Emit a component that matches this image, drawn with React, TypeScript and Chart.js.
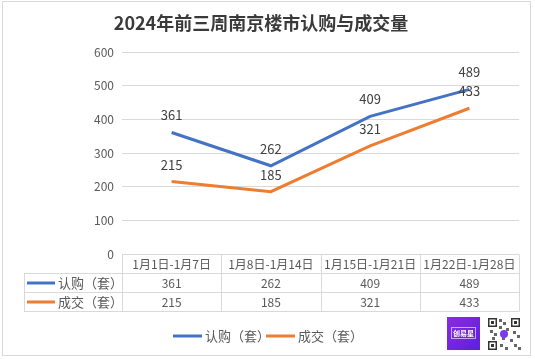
import React, { useEffect, useRef } from "react";
import { Chart, registerables } from "chart.js";

Chart.register(...registerables);

const title = "2024年前三周南京楼市认购与成交量";
const categories = ["1月1日-1月7日", "1月8日-1月14日", "1月15日-1月21日", "1月22日-1月28日"];
const seriesNames = ["认购（套）", "成交（套）"];
const subscription = [361, 262, 409, 489];
const deals = [215, 185, 321, 433];
const yMin = 0;
const yMax = 600;
const yStep = 100;

const COLORS = ["#4472C4", "#ED7D31"];
const FONT = '"Noto Sans CJK SC", "Noto Sans", sans-serif';
const GRID = "#d9d9d9";
const TEXT = "#595959";

const overlay = {
  id: "overlay",
  beforeDraw(chart: any) {
    const ctx = chart.ctx;
    ctx.save();
    ctx.fillStyle = "#ffffff";
    ctx.fillRect(0, 0, chart.width, chart.height);
    ctx.restore();
  },
  afterDraw(chart: any) {
    const ctx = chart.ctx;
    const area = chart.chartArea;
    const xs = chart.scales.x;
    ctx.save();
    // outer border
    ctx.strokeStyle = "#d9d9d9";
    ctx.lineWidth = 1;
    ctx.strokeRect(2.5, 1.5, 528, 354);

    // title
    ctx.fillStyle = "#3a3a3a";
    ctx.font = `bold 18px ${FONT}`;
    ctx.textAlign = "center";
    ctx.textBaseline = "middle";
    ctx.fillText(title, 261, 23);

    // data labels
    ctx.font = `13px ${FONT}`;
    ctx.fillStyle = "#404040";
    ctx.textBaseline = "middle";
    chart.data.datasets.forEach((ds: any, di: number) => {
      const meta = chart.getDatasetMeta(di);
      meta.data.forEach((pt: any, i: number) => {
        ctx.fillText(String(ds.data[i]), pt.x, pt.y - 17);
      });
    });

    // table
    const left = 24;
    const rowH = 19;
    const top = area.bottom + 0.5;
    const r1 = top + rowH;
    const r2 = r1 + rowH;
    const r3 = r2 + rowH;
    const right = area.right;
    const colW = (area.right - area.left) / categories.length;
    ctx.strokeStyle = GRID;
    ctx.lineWidth = 1;
    ctx.beginPath();
    ctx.moveTo(area.left, top); ctx.lineTo(right, top);
    ctx.moveTo(left, r1); ctx.lineTo(right, r1);
    ctx.moveTo(left, r2); ctx.lineTo(right, r2);
    ctx.moveTo(left, r3); ctx.lineTo(right, r3);
    ctx.moveTo(left + 0.5, r1); ctx.lineTo(left + 0.5, r3);
    for (let i = 0; i <= categories.length; i++) {
      const x = Math.round(area.left + i * colW) + 0.5;
      ctx.moveTo(x, top); ctx.lineTo(x, r3);
    }
    ctx.stroke();

    ctx.fillStyle = TEXT;
    ctx.font = `12px ${FONT}`;
    ctx.textAlign = "center";
    categories.forEach((c, i) => {
      const cx = xs.getPixelForValue(i);
      ctx.fillText(c, cx, (top + r1) / 2);
    });
    const rows = [r1, r2];
    chart.data.datasets.forEach((ds: any, di: number) => {
      const cy = (rows[di] + rows[di] + rowH) / 2;
      ctx.textAlign = "center";
      ctx.fillStyle = TEXT;
      ds.data.forEach((v: number, i: number) => {
        ctx.fillText(String(v), xs.getPixelForValue(i), cy);
      });
      ctx.strokeStyle = COLORS[di];
      ctx.lineWidth = 3;
      ctx.beginPath();
      ctx.moveTo(27, cy);
      ctx.lineTo(55, cy);
      ctx.stroke();
      ctx.textAlign = "left";
      ctx.fillStyle = TEXT;
      ctx.font = `13px ${FONT}`;
      ctx.fillText(seriesNames[di], 58, cy);
      ctx.font = `12px ${FONT}`;
    });

    // legend
    const ly = 336;
    const items = [
      { x: 173, name: seriesNames[0], color: COLORS[0] },
      { x: 266, name: seriesNames[1], color: COLORS[1] },
    ];
    ctx.font = `13px ${FONT}`;
    items.forEach((it) => {
      ctx.strokeStyle = it.color;
      ctx.lineWidth = 3;
      ctx.beginPath();
      ctx.moveTo(it.x, ly);
      ctx.lineTo(it.x + 29, ly);
      ctx.stroke();
      ctx.fillStyle = TEXT;
      ctx.textAlign = "left";
      ctx.fillText(it.name, it.x + 32, ly);
    });

    // logo
    const g = ctx.createLinearGradient(447, 318, 480, 350);
    g.addColorStop(0, "#8a2be2");
    g.addColorStop(1, "#5b21d6");
    ctx.fillStyle = g;
    ctx.fillRect(447, 317, 33, 33);
    ctx.strokeStyle = "rgba(255,255,255,0.6)";
    ctx.lineWidth = 1;
    ctx.strokeRect(451.5, 327.5, 24, 11);
    ctx.fillStyle = "#ffffff";
    ctx.font = `bold 7px ${FONT}`;
    ctx.textAlign = "center";
    ctx.fillText("创易星", 463.5, 333);

    // qr-like mark
    ctx.fillStyle = "#ffffff";
    ctx.fillRect(487, 317, 34, 34);
    ctx.fillStyle = "#333333";
    const finder = (fx: number, fy: number) => {
      ctx.fillRect(fx, fy, 9, 9);
      ctx.fillStyle = "#ffffff";
      ctx.fillRect(fx + 1.5, fy + 1.5, 6, 6);
      ctx.fillStyle = "#333333";
      ctx.fillRect(fx + 3, fy + 3, 3, 3);
    };
    finder(488, 318);
    finder(511, 318);
    finder(488, 341);
    ctx.fillStyle = "#666666";
    const blocks = [
      [499, 319], [503, 322], [499, 326], [506, 328], [490, 330], [494, 333],
      [513, 331], [517, 335], [510, 339], [514, 344], [500, 344], [505, 347],
      [518, 347], [492, 337], [502, 337],
    ];
    blocks.forEach(([bx, by]) => ctx.fillRect(bx, by, 3, 3));
    ctx.fillStyle = "#7c3aed";
    ctx.beginPath();
    ctx.arc(504, 334, 4, 0, Math.PI * 2);
    ctx.fill();
    ctx.restore();
  },
};

export default function App() {
  const ref = useRef<HTMLCanvasElement | null>(null);
  useEffect(() => {
    document.body.style.margin = "0";
    if (!ref.current) return;
    const chart = new Chart(ref.current, {
      type: "line",
      data: {
        labels: categories,
        datasets: [
          {
            label: seriesNames[0],
            data: subscription,
            borderColor: COLORS[0],
            backgroundColor: COLORS[0],
            borderWidth: 3,
            pointRadius: 0,
            tension: 0,
          },
          {
            label: seriesNames[1],
            data: deals,
            borderColor: COLORS[1],
            backgroundColor: COLORS[1],
            borderWidth: 3,
            pointRadius: 0,
            tension: 0,
          },
        ],
      },
      options: {
        responsive: false,
        animation: false,
        layout: { padding: { top: 52, left: 0, right: 16, bottom: 105 } },
        plugins: {
          legend: { display: false },
          title: { display: false },
          tooltip: { enabled: false },
        },
        scales: {
          x: { type: "category", display: false, offset: true },
          y: {
            min: yMin,
            max: yMax,
            ticks: {
              stepSize: yStep,
              color: TEXT,
              padding: 8,
              font: { size: 12, family: FONT },
            },
            grid: { color: GRID, drawTicks: false },
            border: { display: false },
            afterFit: (s: any) => {
              s.width = 122;
            },
          },
        },
      },
      plugins: [overlay],
    });
    return () => chart.destroy();
  }, []);
  return (
    <div style={{ position: "absolute", left: 0, top: 0, width: 535, height: 359 }}>
      <canvas ref={ref} width={535} height={359} style={{ width: 535, height: 359 }} />
    </div>
  );
}
